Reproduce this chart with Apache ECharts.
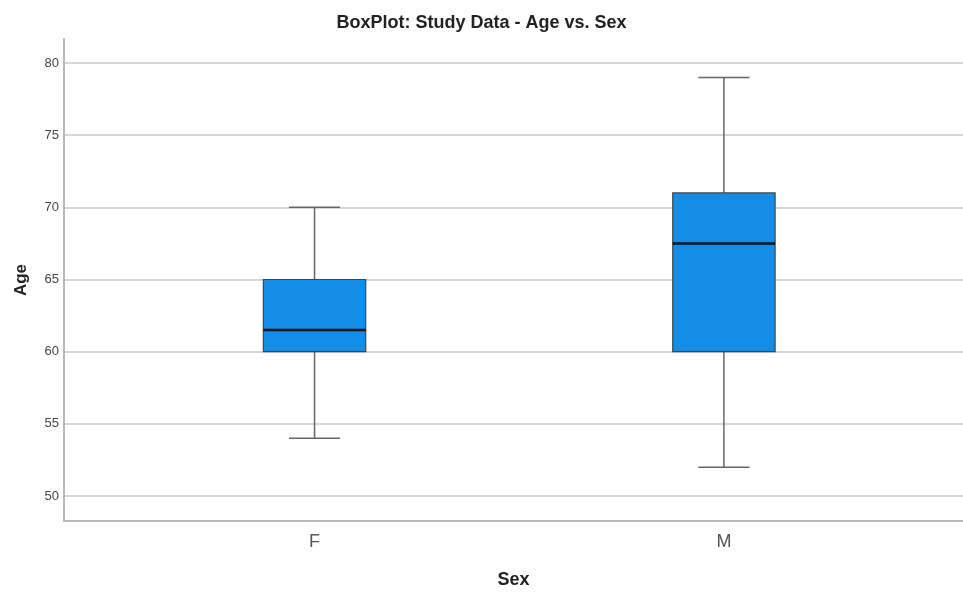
<!DOCTYPE html>
<html>
<head>
<meta charset="utf-8">
<script src="https://cdn.jsdelivr.net/npm/echarts@6/dist/echarts.min.js"></script>
<style>
  html, body { margin: 0; padding: 0; background: #fff; }
  #chart { width: 963px; height: 594px; }
</style>
</head>
<body>
<div id="chart"></div>
<script>
// box stats
const categories = ['F', 'M'];
const mins = [54, 52];
const q1s = [60, 60];
const medians = [61.5, 67.5];
const q3s = [65, 71];
const maxs = [70, 79];
const yTicks = [50, 55, 60, 65, 70, 75, 80];

const BOX_W = 0.25; // in category units
const CAP_W = 0.125;

let data = [];
categories.forEach((c, i) => {
    data.push([i, mins[i], q1s[i], medians[i], q3s[i], maxs[i]]);
});

const chart = echarts.init(document.getElementById('chart'));
const axisGray = '#b8b8b8';
const font = 'Liberation Sans, Arial, sans-serif';

const option = {
    backgroundColor: '#fff',
    animation: false,
    title: {
        text: 'BoxPlot: Study Data - Age vs. Sex',
        left: 'center',
        top: 9,
        textStyle: {
            fontFamily: font,
            fontSize: 18,
            fontWeight: 'bold',
            color: '#222'
        }
    },
    grid: { left: 64, right: 0, top: 39, bottom: 66 },
    xAxis: {
        type: 'value',
        min: -0.612,
        max: 1.584,
        name: 'Sex',
        nameLocation: 'middle',
        nameGap: 50,
        nameTextStyle: {
            fontFamily: font,
            fontSize: 18,
            fontWeight: 'bold',
            color: '#222'
        },
        axisLine: { show: true, onZero: false, lineStyle: { color: axisGray, width: 2 } },
        axisTick: { show: false },
        splitLine: { show: false },
        axisLabel: {
            customValues: [0, 1],
            formatter: (v) => categories[Math.round(v)],
            margin: 12,
            fontFamily: font,
            fontSize: 18,
            color: '#555'
        }
    },
    yAxis: {
        type: 'value',
        min: 48.27,
        max: 81.66,
        name: 'Age',
        nameLocation: 'middle',
        nameGap: 34,
        nameTextStyle: {
            fontFamily: font,
            fontSize: 17,
            fontWeight: 'bold',
            color: '#222'
        },
        axisLine: { show: true, onZero: false, lineStyle: { color: axisGray, width: 2 } },
        axisTick: { show: false, customValues: yTicks },
        axisLabel: {
            customValues: yTicks,
            margin: 5,
            fontFamily: font,
            fontSize: 13,
            color: '#444'
        },
        splitLine: { show: true, lineStyle: { color: '#d6d6d6', width: 2 } }
    },
    series: [
        {
            type: 'custom',
            data: data,
            encode: { x: 0, y: [1, 2, 3, 4, 5] },
            renderItem: function (params, api) {
                const x = api.value(0);
                const pMin = api.coord([x, api.value(1)]);
                const pQ1 = api.coord([x, api.value(2)]);
                const pMed = api.coord([x, api.value(3)]);
                const pQ3 = api.coord([x, api.value(4)]);
                const pMax = api.coord([x, api.value(5)]);
                const hb = api.size([BOX_W, 0])[0] / 2;
                const hc = api.size([CAP_W, 0])[0] / 2;
                const cx = pQ1[0];
                const whisker = { stroke: '#666', lineWidth: 1.5 };
                return {
                    type: 'group',
                    children: [
                        { type: 'line', shape: { x1: cx, y1: pQ3[1], x2: cx, y2: pMax[1] }, style: whisker },
                        { type: 'line', shape: { x1: cx, y1: pQ1[1], x2: cx, y2: pMin[1] }, style: whisker },
                        { type: 'line', shape: { x1: cx - hc, y1: pMax[1], x2: cx + hc, y2: pMax[1] }, style: whisker },
                        { type: 'line', shape: { x1: cx - hc, y1: pMin[1], x2: cx + hc, y2: pMin[1] }, style: whisker },
                        {
                            type: 'rect',
                            shape: { x: cx - hb, y: pQ3[1], width: hb * 2, height: pQ1[1] - pQ3[1] },
                            style: { fill: '#148de6', stroke: '#444', lineWidth: 1.2 }
                        },
                        {
                            type: 'line',
                            shape: { x1: cx - hb, y1: pMed[1], x2: cx + hb, y2: pMed[1] },
                            style: { stroke: '#111', lineWidth: 2.5 }
                        }
                    ]
                };
            }
        }
    ]
};
chart.setOption(option);
window.addEventListener('resize', function () {
    chart.resize();
});
</script>
</body>
</html>
